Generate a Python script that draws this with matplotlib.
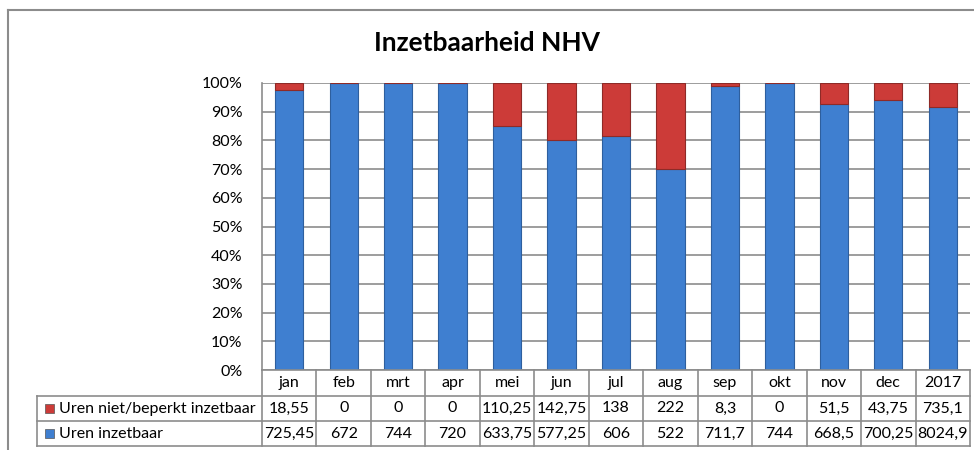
import matplotlib.pyplot as plt
from matplotlib.patches import Rectangle
from matplotlib.lines import Line2D

plt.rcParams['font.family'] = ['Lato', 'DejaVu Sans']

months = ['jan', 'feb', 'mrt', 'apr', 'mei', 'jun', 'jul', 'aug', 'sep', 'okt', 'nov', 'dec', '2017']
niet_inzetbaar = [18.55, 0, 0, 0, 110.25, 142.75, 138, 222, 8.3, 0, 51.5, 43.75, 735.1]
inzetbaar = [725.45, 672, 744, 720, 633.75, 577.25, 606, 522, 711.7, 744, 668.5, 700.25, 8024.9]
series_names = ['Uren niet/beperkt inzetbaar', 'Uren inzetbaar']

blue = '#3f7fd0'
red = '#cc3b38'

W, H = 974, 450
fig = plt.figure(figsize=(W / 100, H / 100), dpi=100)

# outer chart border (left, top, right side cut at image edge)
fig.add_artist(Line2D([8 / W, 8 / W], [0, 1 - 10 / H], color='#8c8c8c', lw=1.5))
fig.add_artist(Line2D([8 / W, 1], [1 - 10 / H, 1 - 10 / H], color='#8c8c8c', lw=1.5))

x0, x1, y0, y1 = 262, 970, 370, 83
ax = fig.add_axes([x0 / W, 1 - y0 / H, (x1 - x0) / W, (y0 - y1) / H])

totals = [a + b for a, b in zip(niet_inzetbaar, inzetbaar)]
pct_in = [b / t * 100 for b, t in zip(inzetbaar, totals)]
pct_niet = [a / t * 100 for a, t in zip(niet_inzetbaar, totals)]
pos = list(range(len(months)))

ax.bar(pos, pct_in, width=0.52, color=blue, edgecolor='#2e5f9e', lw=0.8, zorder=3)
ax.bar(pos, pct_niet, bottom=pct_in, width=0.52, color=red, edgecolor='#8e2a27', lw=0.8, zorder=3)

ax.set_xlim(-0.5, len(months) - 0.5)
ax.set_ylim(0, 100)
ax.set_yticks(range(0, 101, 10))
ax.set_yticklabels([f'{v}%' for v in range(0, 101, 10)], fontsize=11.5)
ax.set_xticks([])
ax.tick_params(axis='y', length=0, pad=14)
ax.grid(axis='y', color='#8c8c8c', lw=1.2, zorder=0)
for s in ['top', 'right', 'bottom']:
    ax.spines[s].set_visible(False)
ax.spines['left'].set_color('#8c8c8c')
ax.spines['left'].set_linewidth(1.2)

fig.text(0.5, 1 - 43 / H, 'Inzetbaarheid NHV', ha='center', va='center',
         fontsize=19, fontweight='bold')

# data table below the axes
col_w = (x1 - x0) / len(months)
rows_y = [370, 396, 421, 446]
lc = '#8c8c8c'


def fx(px):
    return px / W


def fy(py):
    return 1 - py / H


# header row
for i, m in enumerate(months):
    cx = x0 + col_w * (i + 0.5)
    fig.text(fx(cx), fy((rows_y[0] + rows_y[1]) / 2), m, ha='center', va='center', fontsize=11.5)

data_rows = [niet_inzetbaar, inzetbaar]
colors = [red, blue]
for r, (vals, name, c) in enumerate(zip(data_rows, series_names, colors)):
    ymid = (rows_y[r + 1] + rows_y[r + 2]) / 2
    for i, v in enumerate(vals):
        cx = x0 + col_w * (i + 0.5)
        txt = f'{v:g}'.replace('.', ',')
        fig.text(fx(cx), fy(ymid), txt, ha='center', va='center', fontsize=11.5)
    fig.add_artist(Rectangle((fx(45), fy(ymid + 4.5)), 9 / W, 9 / H, facecolor=c,
                             edgecolor='#555555', lw=0.5))
    fig.text(fx(59), fy(ymid), name, ha='left', va='center', fontsize=11.5)

# table grid lines
for yy in rows_y[1:]:
    fig.add_artist(Line2D([fx(37), fx(x1)], [fy(yy), fy(yy)], color=lc, lw=1.2))
fig.add_artist(Line2D([fx(37), fx(37)], [fy(rows_y[1]), fy(rows_y[3])], color=lc, lw=1.2))
for i in range(len(months) + 1):
    xx = x0 + col_w * i
    fig.add_artist(Line2D([fx(xx), fx(xx)], [fy(rows_y[0]), fy(rows_y[3])], color=lc, lw=1.2))
fig.add_artist(Line2D([fx(x0), fx(x1)], [fy(rows_y[0]), fy(rows_y[0])], color=lc, lw=1.2))

fig.savefig('out.png', dpi=100)
